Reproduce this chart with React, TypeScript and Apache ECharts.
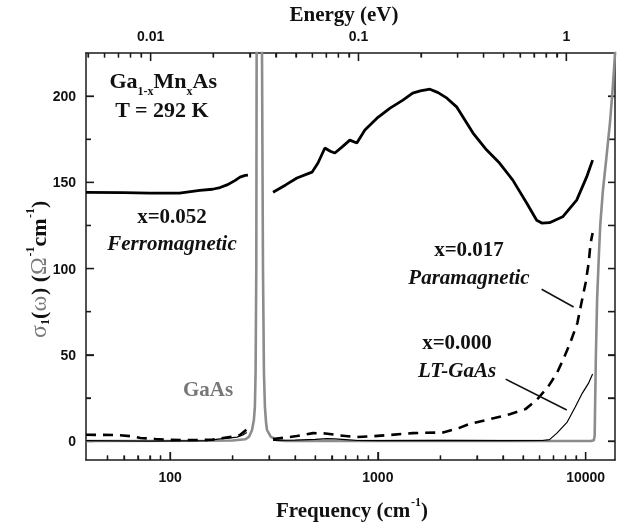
import React, { useEffect, useRef } from "react";
import * as echarts from "echarts";

// ---------- axis ranges & ticks ----------
const X_MIN = 39.4;
const X_MAX = 13840;
const Y_MIN = -11;
const Y_MAX = 225;
const EV_TO_CM = 8065.54;

const freqTicks = [100, 1000, 10000];
const freqMinorTicks = [50, 60, 70, 80, 90, 200, 300, 400, 500, 600, 700, 800, 900, 2000, 3000, 4000, 5000, 6000, 7000, 8000, 9000];
const energyTicksEV = [0.01, 0.1, 1];
const energyTickLabels = ["0.01", "0.1", "1"];
const energyMinorEV = [0.005, 0.006, 0.007, 0.008, 0.009, 0.02, 0.03, 0.04, 0.05, 0.06, 0.07, 0.08, 0.09, 0.2, 0.3, 0.4, 0.5, 0.6, 0.7, 0.8, 0.9];
const sigmaTicks = [0, 50, 100, 150, 200];
const sigmaMinorTicks = [25, 75, 125, 175];
const sigmaRightTicks = [0, 25, 50, 75, 100, 125, 150, 175, 200];

// ---------- data (frequency in cm^-1, sigma in Ohm^-1 cm^-1) ----------
// GaAs substrate (gray): phonon + band edge
const gaasFreq = [39.4, 150, 200, 230, 240, 248, 253, 256, 258, 260, 261, 262, 268, 276, 277, 280, 283, 286, 290, 293, 305, 326, 360, 1000, 5000, 10600, 10950, 11050, 11100, 11200, 11350, 11550, 11750, 12100, 12600, 13100, 13500, 13850, 14100];
const gaasSigma = [0, 0.2, 0.3, 1, 2.5, 6.4, 12, 20, 40, 100, 224, 400, 3000, 400, 224, 100, 40, 20, 10, 6.4, 2.5, 0.5, 0, 0, 0, 0, 0.5, 3, 20, 50, 82, 105, 125, 145, 165, 185, 205, 225, 240];

// x = 0.052 Ferromagnetic (thick solid)
const ferroLowFreq = [39.4, 60, 80, 111, 139, 160, 174, 188, 205, 217, 230, 237];
const ferroLowSigma = [144.2, 144, 143.8, 143.8, 145.3, 146, 147, 148.5, 151, 153, 154, 154.2];
const ferroHighFreq = [313, 360, 408, 482, 515, 556, 590, 621, 680, 733, 792, 866, 990, 1145, 1320, 1470, 1600, 1780, 1950, 2150, 2400, 2870, 3340, 3850, 4460, 5200, 5810, 6150, 6700, 7750, 9050, 10100, 10800];
const ferroHighSigma = [144.3, 148.5, 152.5, 155.9, 161.2, 169.9, 168, 167, 171, 174.5, 172.8, 180.3, 187.2, 193, 197.7, 201.7, 203, 204, 202, 198.8, 193.6, 178.6, 168.7, 161.2, 151.3, 138, 128, 126.4, 126.6, 130, 139.7, 153, 162.9];

// x = 0.017 Paramagnetic (dashed)
const paraLowFreq = [39.4, 55, 65, 72, 85, 100, 120, 140, 160, 180, 200, 217, 234];
const paraLowSigma = [3.6, 3.5, 2.8, 1.8, 1.2, 0.7, 0.6, 0.6, 0.8, 1.8, 2.5, 3.5, 6.8];
const paraHighFreq = [313, 360, 408, 488, 560, 640, 792, 950, 1140, 1470, 2060, 2450, 2770, 3640, 4313, 5130, 5810, 6580, 7270, 7780, 8420, 9120, 9540, 9990, 10330, 10560, 10800];
const paraHighSigma = [1.2, 2, 2.9, 4.6, 4.4, 3.4, 2.3, 2.8, 3.5, 4.6, 5, 7.5, 10, 13.3, 15.5, 18.5, 23.8, 31.3, 39.4, 47, 56.8, 68.4, 80, 91.6, 103, 114.8, 120.6];

// x = 0.000 LT-GaAs (thin solid)
const ltLowFreq = [39.4, 80, 150, 174, 195, 210, 224, 234];
const ltLowSigma = [0.2, 0, 0.2, 1.2, 1.8, 2.3, 3.5, 5];
const ltHighFreq = [313, 400, 500, 569, 620, 700, 800, 1000, 2000, 4000, 6200, 6700, 7270, 8150, 8910, 9640, 10330, 10800];
const ltHighSigma = [0.3, 0.5, 1, 1.4, 1.2, 0.8, 0.3, 0.2, 0.4, 0.2, 0.3, 0.8, 4.6, 11, 19.7, 27.8, 33.6, 38.8];

// annotation leader lines (data coordinates)
const paraLeaderFreq = [6140, 8750];
const paraLeaderSigma = [88, 77.7];
const ltLeaderFreq = [4120, 8110];
const ltLeaderSigma = [35.9, 18];

const zip = (xs: number[], ys: number[]) => xs.map((x, i) => [x, ys[i]]);

const SERIF = "'Liberation Serif'";
const INK = "#1a1a1a";

function buildOption() {
  const tickStyle = { color: INK, width: 1.3 };
  const frame = { show: true, onZero: false, lineStyle: { color: INK, width: 1.5 } };
  const noLine = { show: false, onZero: false };
  const labelStyle = { fontFamily: "Liberation Sans", fontWeight: "bold" as const, fontSize: 14, color: "#111", margin: 10 };
  const baseX: any = { type: "log", logBase: 10, min: X_MIN, max: X_MAX, splitLine: { show: false }, minorTick: { show: false }, minorSplitLine: { show: false } };
  const baseY: any = { type: "value", min: Y_MIN, max: Y_MAX, splitLine: { show: false } };
  const tick = (length: number, values: number[]) => ({ show: true, inside: true, length, lineStyle: tickStyle, customValues: values });
  const energyMajor = energyTicksEV.map((e) => e * EV_TO_CM);
  const energyMinor = energyMinorEV.map((e) => e * EV_TO_CM);

  const line = (xs: number[], ys: number[], color: string, width: number, type?: any) => ({
    type: "line",
    xAxisIndex: 0,
    yAxisIndex: 0,
    data: zip(xs, ys),
    showSymbol: false,
    lineStyle: type ? { color, width, type } : { color, width },
  });

  // tick marks drawn through the axes' own scales (custom series)
  const tickSeries = (side: string, values: number[], len: number) => ({
    type: "custom",
    xAxisIndex: 0,
    yAxisIndex: 0,
    silent: true,
    data: values.map((v) =>
      side === "bottom" ? [v, Y_MIN] : side === "top" ? [v, Y_MAX] : side === "left" ? [X_MIN, v] : [X_MAX, v]
    ),
    renderItem: (_params: any, api: any) => {
      const p = api.coord([api.value(0), api.value(1)]);
      let x2 = p[0];
      let y2 = p[1];
      if (side === "bottom") y2 = p[1] - len;
      else if (side === "top") y2 = p[1] + len;
      else if (side === "left") x2 = p[0] + len;
      else x2 = p[0] - len;
      return {
        type: "line",
        shape: { x1: p[0], y1: p[1], x2, y2 },
        style: { stroke: INK, lineWidth: 1.3 },
      };
    },
  });

  const txt = (text: string, x: number, y: number, font: string, align = "center", fill = "#111") => ({
    type: "text",
    x,
    y,
    style: { text, align, verticalAlign: "middle", font, fill },
  });
  const B21 = `bold 21px ${SERIF}`;
  const BI21 = `italic bold 21px ${SERIF}`;
  const B22 = `bold 22px ${SERIF}`;
  const S12 = `bold 12px ${SERIF}`;
  const G24 = `24px ${SERIF}`;

  return {
    animation: false,
    grid: { left: 86, right: 13, top: 53, bottom: 69, containLabel: false },
    xAxis: [
      { ...baseX, position: "bottom", axisLine: frame, axisTick: tick(8, freqTicks), axisLabel: { ...labelStyle, customValues: freqTicks, formatter: (x: number) => String(Math.round(x)) } },
      { ...baseX, position: "bottom", axisLine: noLine, axisTick: tick(4.5, freqMinorTicks), axisLabel: { show: false } },
      { ...baseX, position: "top", axisLine: frame, axisTick: tick(8, energyMajor), axisLabel: { ...labelStyle, customValues: energyMajor, formatter: (x: number) => energyTickLabels[Math.round(Math.log10(x / EV_TO_CM)) + 2] } },
      { ...baseX, position: "top", axisLine: noLine, axisTick: tick(4.5, energyMinor), axisLabel: { show: false } },
    ],
    yAxis: [
      { ...baseY, position: "left", axisLine: frame, axisTick: tick(8, sigmaTicks), axisLabel: { ...labelStyle, customValues: sigmaTicks } },
      { ...baseY, position: "left", axisLine: noLine, axisTick: tick(5, sigmaMinorTicks), axisLabel: { show: false } },
      { ...baseY, position: "right", axisLine: frame, axisTick: tick(7, sigmaRightTicks), axisLabel: { show: false } },
    ],
    series: [
      line(gaasFreq, gaasSigma, "#8c8c8c", 2.6),
      line(ltLowFreq, ltLowSigma, "#000", 1.2),
      line(ltHighFreq, ltHighSigma, "#000", 1.2),
      line(paraLowFreq, paraLowSigma, "#000", 2.6, [10, 7]),
      line(paraHighFreq, paraHighSigma, "#000", 2.6, [10, 7]),
      line(ferroLowFreq, ferroLowSigma, "#000", 2.8),
      line(ferroHighFreq, ferroHighSigma, "#000", 2.8),
      line(paraLeaderFreq, paraLeaderSigma, "#111", 1.5),
      line(ltLeaderFreq, ltLeaderSigma, "#111", 1.5),
      tickSeries("bottom", freqTicks, 8),
      tickSeries("bottom", freqMinorTicks, 4.5),
      tickSeries("top", energyMajor, 8),
      tickSeries("top", energyMinor, 4.5),
      tickSeries("left", sigmaTicks, 8),
      tickSeries("left", sigmaMinorTicks, 5),
      tickSeries("right", sigmaRightTicks, 7),
    ],
    graphic: [
      txt("Energy (eV)", 344, 14, B21),
      // Frequency (cm^-1)
      txt("Frequency (cm", 276, 510, B21, "left"),
      txt("-1", 411, 502, S12, "left"),
      txt(")", 421, 510, B21, "left"),
      // y-axis title, rotated
      {
        type: "group",
        x: 38,
        y: 269,
        rotation: Math.PI / 2,
        children: [
          txt("σ", -69, 0, G24, "left", "#7a7a7a"),
          txt("1", -56, 7, S12, "left"),
          txt("(", -50, 0, B22, "left"),
          txt("ω", -42.5, 0, G24, "left", "#7a7a7a"),
          txt(") (", -26, 0, B22, "left"),
          txt("Ω", -6, 0, G24, "left", "#7a7a7a"),
          txt("-1", 12.5, -8, S12, "left"),
          txt("cm", 22.5, 0, B22, "left"),
          txt("-1", 51, -8, S12, "left"),
          txt(")", 61, 0, B22, "left"),
        ],
      },
      // Ga1-xMnxAs
      txt("Ga", 109.5, 80, B22, "left"),
      txt("1-x", 137.5, 91, S12, "left"),
      txt("Mn", 153.5, 80, B22, "left"),
      txt("x", 186.5, 91, S12, "left"),
      txt("As", 192.5, 80, B22, "left"),
      txt("T = 292 K", 162, 109, B22),
      txt("x=0.052", 172, 216, B21),
      txt("Ferromagnetic", 172, 243, BI21),
      txt("GaAs", 208, 389, B21, "center", "#777"),
      txt("x=0.017", 469, 249, B21),
      txt("Paramagnetic", 469, 277, BI21),
      txt("x=0.000", 457, 342, B21),
      txt("LT-GaAs", 457, 370, BI21),
    ],
  };
}

export default function App() {
  const ref = useRef<HTMLDivElement>(null);

  useEffect(() => {
    if (!ref.current) return;
    const chart = echarts.init(ref.current, undefined, { renderer: "svg" });
    chart.setOption(buildOption() as any);
    return () => chart.dispose();
  }, []);

  return <div ref={ref} style={{ position: "fixed", left: 0, top: 0, width: 628, height: 529 }} />;
}
